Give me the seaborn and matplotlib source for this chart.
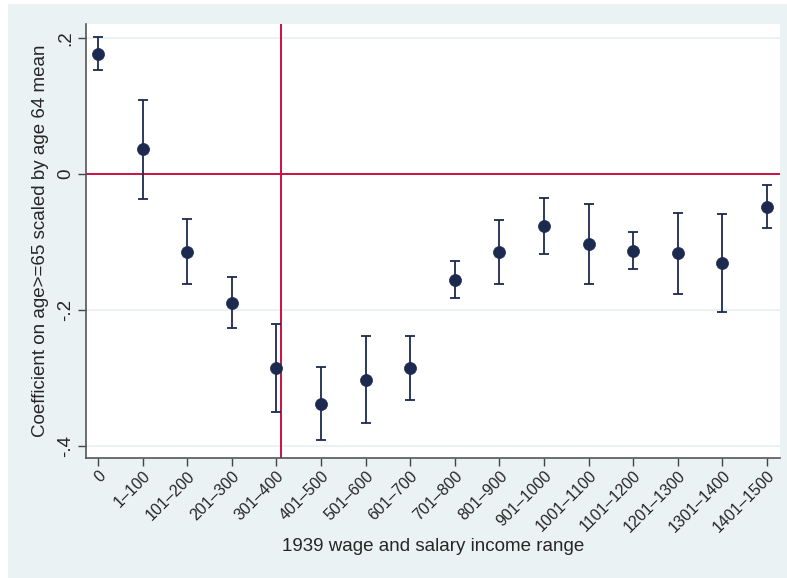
import matplotlib
matplotlib.use("Agg")
import matplotlib.pyplot as plt
from matplotlib.patches import Rectangle
import numpy as np
import pandas as pd
import seaborn as sns

categories = ["0", "1–100", "101–200", "201–300", "301–400", "401–500", "501–600",
              "601–700", "701–800", "801–900", "901–1000", "1001–1100", "1101–1200",
              "1201–1300", "1301–1400", "1401–1500"]
coef = [0.177, 0.036, -0.115, -0.190, -0.285, -0.338, -0.303, -0.285,
        -0.156, -0.115, -0.077, -0.103, -0.113, -0.117, -0.131, -0.049]
ci_low = [0.153, -0.037, -0.162, -0.227, -0.350, -0.392, -0.367, -0.332,
          -0.183, -0.162, -0.118, -0.162, -0.140, -0.176, -0.203, -0.080]
ci_high = [0.201, 0.109, -0.067, -0.151, -0.221, -0.284, -0.238, -0.238,
           -0.128, -0.068, -0.036, -0.044, -0.086, -0.058, -0.059, -0.017]
yticks = [-0.4, -0.2, 0.0, 0.2]
ytick_labels = ["-.4", "-.2", "0", ".2"]
vline_pos = 4.11

sns.set_theme(style="white")
plt.rcParams['font.family'] = ['Liberation Sans', 'DejaVu Sans']

df = pd.DataFrame({"cat": categories, "x": np.arange(len(categories)),
                   "coef": coef, "lo": ci_low, "hi": ci_high})

fig = plt.figure(figsize=(7.87, 5.78), dpi=100, facecolor="white")
bg = "#EAF2F3"
fig.patches.append(Rectangle((8/787, 0), 1 - 8/787, 574/578, transform=fig.transFigure,
                             facecolor=bg, edgecolor="none", zorder=-10))
ax = fig.add_axes([86/787, (578-457.7)/578, (780-86)/787, (457.7-24)/578])
ax.set_facecolor("white")

navy = "#1D2A4F"
red = "#CC1040"

for y in yticks:
    ax.axhline(y, color="#E6EFF0", lw=1.2, zorder=0)
ax.axhline(0, color=red, lw=1.4, zorder=1)
ax.axvline(vline_pos, color=red, lw=1.4, zorder=1)

ax.errorbar(df["x"], df["coef"],
            yerr=[df["coef"] - df["lo"], df["hi"] - df["coef"]],
            fmt="none", ecolor=navy, elinewidth=1.3, capsize=3.5, capthick=1.3, zorder=2)
sns.scatterplot(data=df, x="x", y="coef", ax=ax, color=navy, s=75, edgecolor=navy,
                linewidth=0.5, zorder=3)

ax.set_xlim(-0.27, 15.29)
ax.set_ylim(-0.4176, 0.2206)
ax.set_xticks(df["x"])
ax.set_xticklabels(categories, rotation=45, ha="right", rotation_mode="anchor", fontsize=11.5)
ax.set_yticks(yticks)
ax.set_yticklabels(ytick_labels, rotation=90, va="center", fontsize=13.5)
ax.tick_params(axis="both", direction="out", length=5.5, width=1, color="#444444",
               bottom=True, left=True, pad=3)
ax.tick_params(axis="x", pad=2)

for s in ["top", "right"]:
    ax.spines[s].set_visible(False)
for s in ["left", "bottom"]:
    ax.spines[s].set_color("#555555")
    ax.spines[s].set_linewidth(1.2)

ax.set_xlabel("1939 wage and salary income range", fontsize=13.5, labelpad=2)
ax.set_ylabel("Coefficient on age>=65 scaled by age 64 mean", fontsize=13.5, labelpad=6)

fig.savefig("out.png", dpi=100, facecolor="white")
